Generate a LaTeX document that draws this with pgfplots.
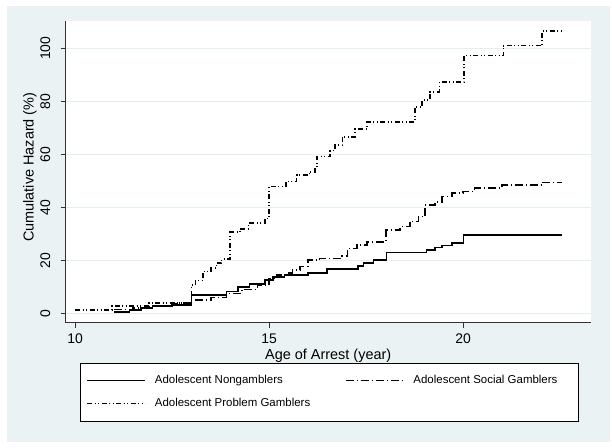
\documentclass[border=0pt]{standalone}
\usepackage{fontspec}
\setmainfont{Liberation Sans}
\usepackage{pgfplots}
\usepackage{pgfplotstable}
\pgfplotsset{compat=1.18}
\definecolor{bgcol}{HTML}{EAF2F3}
\definecolor{gridcol}{HTML}{E3EEF0}
\definecolor{axcol}{HTML}{333333}

\pgfplotstableread{
x y
10.00 1.3
10.95 2.7
11.90 3.9
13.00 10.6
13.10 12.3
13.30 15.7
13.50 17.0
13.65 18.9
13.78 20.5
14.00 30.6
14.25 31.9
14.47 34.0
14.90 35.8
15.00 47.8
15.44 49.7
15.71 52.2
16.04 53.4
16.19 54.7
16.23 59.1
16.57 61.4
16.70 63.5
16.89 66.6
17.22 69.5
17.52 72.2
18.76 77.8
18.95 80.5
19.15 83.6
19.39 87.2
20.03 97.2
21.04 101.0
22.04 106.6
22.55 106.6
}\problem

\pgfplotstableread{
x y
11.00 1.5
11.50 2.0
12.00 3.0
12.60 3.8
13.00 5.0
13.50 6.0
13.90 7.5
14.30 9.0
14.70 10.7
15.00 13.2
15.20 14.5
15.50 15.2
15.60 16.3
15.80 17.6
16.00 20.1
16.30 20.7
16.87 21.6
17.02 24.5
17.26 25.8
17.52 27.0
18.02 31.4
18.38 32.7
18.63 34.6
18.85 36.5
19.02 40.9
19.28 42.1
19.45 44.0
19.71 45.3
20.00 45.9
20.30 47.2
21.00 48.4
22.03 49.4
22.55 49.4
}\social

\pgfplotstableread{
x y
11.00 0.6
11.40 1.2
11.70 2.0
12.00 2.7
12.50 3.2
13.00 6.9
13.90 8.2
14.20 10.0
14.50 11.0
14.90 12.6
15.10 13.8
15.40 14.4
16.00 15.3
16.50 16.8
17.30 17.8
17.43 18.9
17.69 20.1
18.03 22.9
19.06 23.9
19.28 24.8
19.45 25.6
19.71 26.6
20.01 29.5
22.55 29.5
}\nongam

\begin{document}
\begin{tikzpicture}
\fill[white] (0bp,0bp) rectangle (612bp,448bp);
\fill[bgcol] (6.7bp,6.3bp) rectangle (610bp,442bp);
\begin{axis}[
  at={(65.7bp,125.3bp)}, anchor=south west,
  scale only axis, width=525bp, height=302bp,
  xmin=9.76, xmax=23.29, ymin=-3.55, ymax=110.4,
  axis background/.style={fill=white},
  axis x line*=bottom, axis y line*=left,
  axis line style={axcol, line width=0.8bp},
  xtick={10,15,20}, ytick={0,20,40,60,80,100},
  tick align=outside, major tick length=5bp,
  tick style={axcol, line width=0.7bp},
  ymajorgrids, major grid style={gridcol, line width=1bp},
  /pgf/number format/assume math mode=true,
  ticklabel style={font=\fontsize{14}{16}\selectfont},
  yticklabel style={rotate=90, anchor=south},
  yticklabel shift=7bp,
  xticklabel shift=3bp,
  xlabel={Age of Arrest (year)},
  ylabel={Cumulative Hazard (\%)},
  label style={font=\fontsize{14.5}{16}\selectfont, inner sep=0pt},
  xlabel style={at={(axis description cs:0.5,-0.111)}, anchor=center},
  ylabel style={at={(axis description cs:-0.068,0.515)}, anchor=center, rotate=0},
  legend style={at={(axis description cs:0.0272,-0.1334)}, anchor=north west,
    draw=black, fill=white, line width=0.6bp,
    inner xsep=6bp, inner ysep=11.4bp,
    font=\fontsize{11.5}{13}\selectfont,
    nodes={inner xsep=0pt, inner ysep=0pt, text height=9bp, text depth=3bp},
    row sep=11bp,
    /tikz/every odd column/.append style={column sep=9bp},
  },
  legend columns=2,
  legend cell align=left,
  legend image code/.code={\draw[#1] (0bp,0bp) -- (58bp,0bp);},
]
\addplot[const plot, black, line width=1.6bp] table[x=x,y=y]{\nongam};
\addlegendentry{\makebox[190bp][l]{Adolescent Nongamblers}}
\addplot[const plot, black, line width=1.6bp, dash pattern=on 8bp off 3bp on 1bp off 3bp] table[x=x,y=y]{\social};
\addlegendentry{\makebox[159bp][l]{Adolescent Social Gamblers}}
\addplot[const plot, black, line width=1.6bp, dash pattern=on 5bp off 2.5bp on 1bp off 2.5bp on 1bp off 2.5bp] table[x=x,y=y]{\problem};
\addlegendentry{\makebox[190bp][l]{Adolescent Problem Gamblers}}
\end{axis}
\end{tikzpicture}
\end{document}
